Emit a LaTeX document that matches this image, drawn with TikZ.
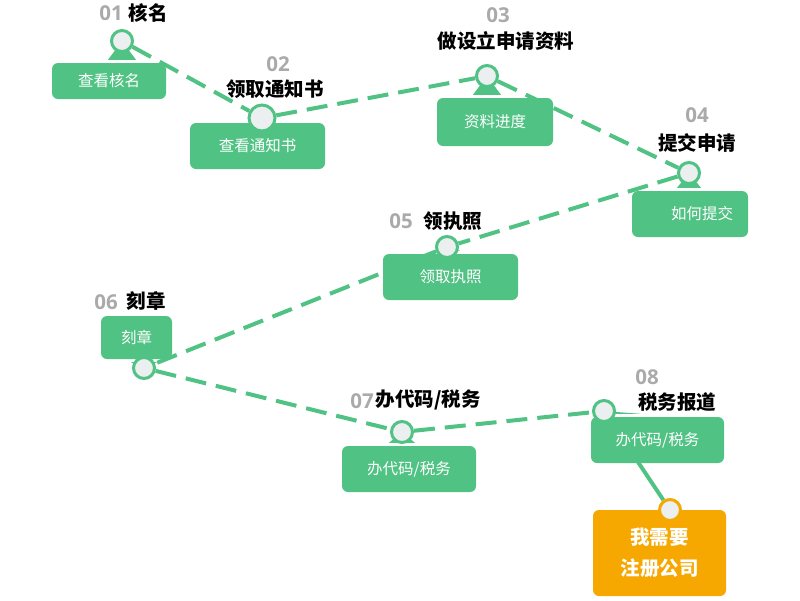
\documentclass[tikz,border=0pt]{standalone}
\usepackage{fontspec}
\setmainfont{Noto Sans CJK SC}
\newfontfamily\numfont{Open Sans}
\definecolor{stepgreen}{HTML}{50C284}
\definecolor{steporange}{HTML}{F6A700}
\definecolor{stepgray}{HTML}{AAAAAA}
\definecolor{dotfill}{HTML}{EBEFF0}
\pgfdeclarelayer{background}
\pgfsetlayers{background,main}

\begin{document}
\begin{tikzpicture}[x=1pt, y=-1pt]
	\tikzstyle{boxStyle}=[rounded corners=6pt, fill=stepgreen, text=white, inner sep=0pt, font=\fontsize{15.5pt}{18pt}\selectfont]
	\tikzstyle{dotStyle}=[shape=circle, minimum size=21pt, inner sep=0pt, draw=stepgreen, line width=3pt, fill=dotfill]
	\tikzstyle{numStyle}=[text=stepgray, font=\numfont\bfseries\fontsize{20.5pt}{22pt}\selectfont]
	\tikzstyle{titleStyle}=[text=black, font=\bfseries\fontsize{19.5pt}{22pt}\selectfont]
	\tikzstyle{pathStyle}=[draw=stepgreen, line width=4pt, dash pattern=on 21pt off 10pt]
	\useasboundingbox (0,0) rectangle (800,600);
	\node[boxStyle, minimum width=114pt, minimum height=36pt] (b1) at (109,81) {查看核名};
	\node[boxStyle, minimum width=135pt, minimum height=46pt] (b2) at (257.5,146) {查看通知书};
	\node[boxStyle, minimum width=116pt, minimum height=48pt] (b3) at (495,122) {资料进度};
	\node[boxStyle, minimum width=116pt, minimum height=46pt] (b4) at (690,214) {\hspace{24pt}如何提交};
	\node[boxStyle, minimum width=135pt, minimum height=46pt] (b5) at (450.5,277) {领取执照};
	\node[boxStyle, minimum width=71pt, minimum height=43pt] (b6) at (136.5,337.5) {刻章};
	\node[boxStyle, minimum width=134pt, minimum height=46pt] (b7) at (409,469) {办代码/税务};
	\node[boxStyle, minimum width=133pt, minimum height=46pt] (b8) at (657.5,440) {办代码/税务\hspace{14pt}};
	\node[boxStyle, fill=steporange, minimum width=133pt, minimum height=86pt, align=center, font=\bfseries\fontsize{19.5pt}{31pt}\selectfont] (b9) at (659.5,553) {我需要\\注册公司};
	\node[dotStyle] (s1) at (122,41) {};
	\node[dotStyle, minimum size=26pt] (s2) at (262,118) {};
	\node[dotStyle] (s3) at (487,76) {};
	\node[dotStyle] (s4) at (689,173) {};
	\node[dotStyle] (s5) at (447,247) {};
	\node[dotStyle] (s6) at (144,368) {};
	\node[dotStyle] (s7) at (402,432) {};
	\node[dotStyle] (s8) at (604,411) {};
	\node[dotStyle, draw=steporange] (s9) at (670,510) {};
	\begin{pgfonlayer}{background}
		\fill[stepgreen] (s1.center) -- ([xshift=-14pt, yshift=3pt]s1.center |- b1.north) -- ([xshift=14pt, yshift=3pt]s1.center |- b1.north) -- cycle;
		\fill[stepgreen] (s3.center) -- ([xshift=-14pt, yshift=3pt]s3.center |- b3.north) -- ([xshift=14pt, yshift=3pt]s3.center |- b3.north) -- cycle;
		\fill[stepgreen] (s4.center) -- ([xshift=-12pt, yshift=3pt]s4.center |- b4.north) -- ([xshift=12pt, yshift=3pt]s4.center |- b4.north) -- cycle;
		\fill[stepgreen] (s5.center) -- ([xshift=-13pt, yshift=3pt]s5.center |- b5.north) -- ([xshift=13pt, yshift=3pt]s5.center |- b5.north) -- cycle;
		\fill[stepgreen] (s6.center) -- ([xshift=-13pt, yshift=-3pt]s6.center |- b6.south) -- ([xshift=13pt, yshift=-3pt]s6.center |- b6.south) -- cycle;
		\fill[stepgreen] (s7.center) -- ([xshift=-13pt, yshift=3pt]s7.center |- b7.north) -- ([xshift=13pt, yshift=3pt]s7.center |- b7.north) -- cycle;
		\fill[stepgreen] (s8.center) -- ([xshift=-6pt, yshift=3pt]s8.center |- b8.north) -- ([xshift=36pt, yshift=3pt]s8.center |- b8.north) -- cycle;
	\end{pgfonlayer}
	\begin{pgfonlayer}{background}
		\draw[pathStyle] (s1) -- (s2) -- (s3) -- (s4) -- (s5) -- (s6) -- (s7) -- (s8);
		\draw[draw=stepgreen, line width=4pt] (s8) -- (s9);
	\end{pgfonlayer}
	\node[numStyle] (n1) at (111,13) {01};
	\node[titleStyle] (t1) at (148,13) {核名};
	\node[numStyle] (n2) at (278,64) {02};
	\node[titleStyle] (t2) at (275,89) {领取通知书};
	\node[numStyle] (n3) at (498,15) {03};
	\node[titleStyle] (t3) at (506,41) {做设立申请资料};
	\node[numStyle] (n4) at (697,115) {04};
	\node[titleStyle] (t4) at (697,143) {提交申请};
	\node[numStyle] (n5) at (401,221) {05};
	\node[titleStyle] (t5) at (453,221) {领执照};
	\node[numStyle] (n6) at (106,302) {06};
	\node[titleStyle] (t6) at (146,301) {刻章};
	\node[numStyle] (n7) at (362,401) {07};
	\node[titleStyle] (t7) at (428,400) {办代码/税务};
	\node[numStyle] (n8) at (647,377) {08};
	\node[titleStyle] (t8) at (677,402) {税务报道};
\end{tikzpicture}
\end{document}
